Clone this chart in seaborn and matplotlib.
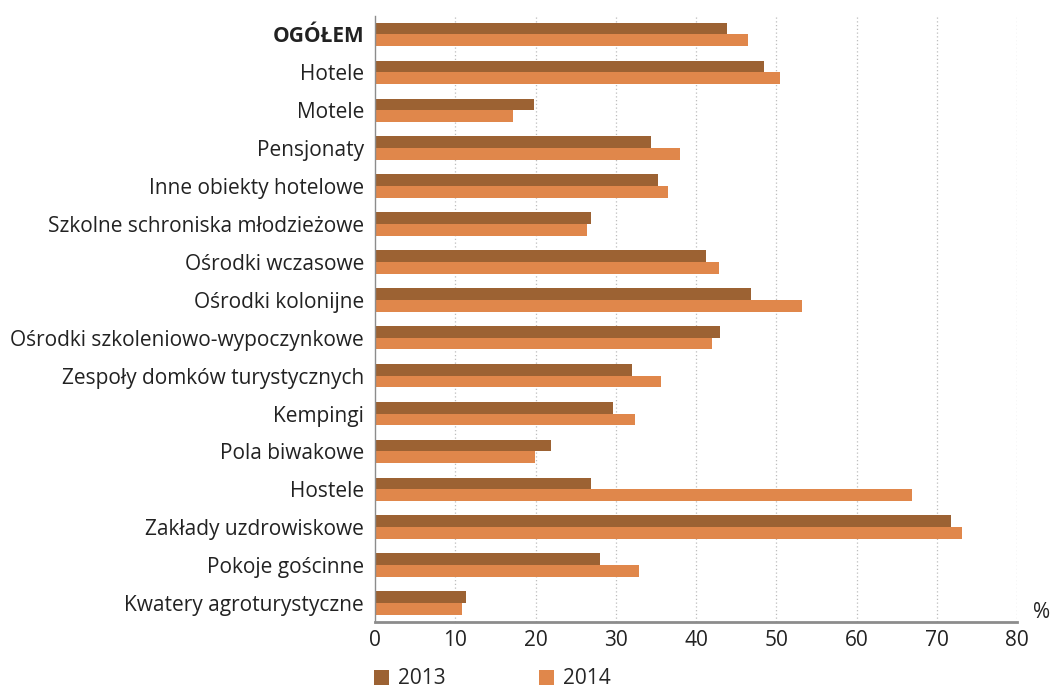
import pandas as pd
import matplotlib.pyplot as plt
import seaborn as sns
from matplotlib.patches import Patch

# occupancy rate of bed places by type of establishment (%)
categories = [
    'OGÓŁEM', 'Hotele', 'Motele', 'Pensjonaty', 'Inne obiekty hotelowe',
    'Szkolne schroniska młodzieżowe', 'Ośrodki wczasowe', 'Ośrodki kolonijne',
    'Ośrodki szkoleniowo-wypoczynkowe', 'Zespoły domków turystycznych',
    'Kempingi', 'Pola biwakowe', 'Hostele', 'Zakłady uzdrowiskowe',
    'Pokoje gościnne', 'Kwatery agroturystyczne',
]
values_2013 = [43.9, 48.5, 19.8, 34.4, 35.3, 26.9, 41.2, 46.9,
               43.0, 32.0, 29.6, 21.9, 26.9, 71.8, 28.0, 11.3]
values_2014 = [46.5, 50.5, 17.2, 38.0, 36.5, 26.4, 42.9, 53.2,
               42.0, 35.6, 32.4, 19.9, 66.9, 73.1, 32.9, 10.8]
years = ['2013', '2014']
colors = ['#9C6233', '#E0874B']

df = pd.DataFrame({
    'kategoria': categories * 2,
    'rok': [years[0]] * len(categories) + [years[1]] * len(categories),
    'wartosc': values_2013 + values_2014,
})

sns.set_style('white')
plt.rcParams['font.family'] = ['Open Sans', 'DejaVu Sans']
fs = 15

fig = plt.figure(figsize=(10.51, 6.91), dpi=100)
ax = fig.add_axes([375 / 1051, 1 - 622 / 691, (1017 - 375) / 1051, (622 - 15.5) / 691])

sns.barplot(data=df, y='kategoria', x='wartosc', hue='rok', orient='h',
            palette=colors, width=0.62, order=categories, hue_order=years,
            saturation=1, linewidth=0, ax=ax, legend=False)

ax.set_xlim(0, 80)
ax.set_ylim(len(categories) - 0.5, -0.5)
ax.set_xticks(range(0, 81, 10))
ax.set_xlabel('')
ax.set_ylabel('')

for x in range(10, 81, 10):
    ax.axvline(x, color='#BDBDBD', lw=0.9, ls=(0, (1, 2)), zorder=0)

for side in ['top', 'right']:
    ax.spines[side].set_visible(False)
ax.spines['left'].set_color('#8C8C8C')
ax.spines['left'].set_linewidth(1.0)
ax.spines['bottom'].set_color('#8C8C8C')
ax.spines['bottom'].set_linewidth(2.0)

ax.tick_params(axis='y', which='major', length=0, pad=8, labelsize=fs, labelcolor='#222222')
ax.set_yticks([i + 0.5 for i in range(-1, len(categories))], minor=True)
ax.tick_params(axis='y', which='minor', length=6, color='#8C8C8C', width=1)
ax.tick_params(axis='x', length=4, color='#8C8C8C', labelsize=fs, labelcolor='#222222', pad=2)
ax.get_yticklabels()[0].set_fontweight('bold')

fig.text(1042 / 1051, 1 - 612 / 691, '%', fontsize=fs, color='#222222',
         ha='center', va='center')

handles = [Patch(facecolor=c, edgecolor='none') for c in colors]
fig.legend(handles, years, loc='center left', bbox_to_anchor=(374 / 1051, 1 - 679 / 691),
           ncol=2, frameon=False, fontsize=fs, handlelength=0.7, handleheight=0.7,
           handletextpad=0.45, columnspacing=4.5, borderpad=0, borderaxespad=0)

fig.savefig('out.png', dpi=100)
